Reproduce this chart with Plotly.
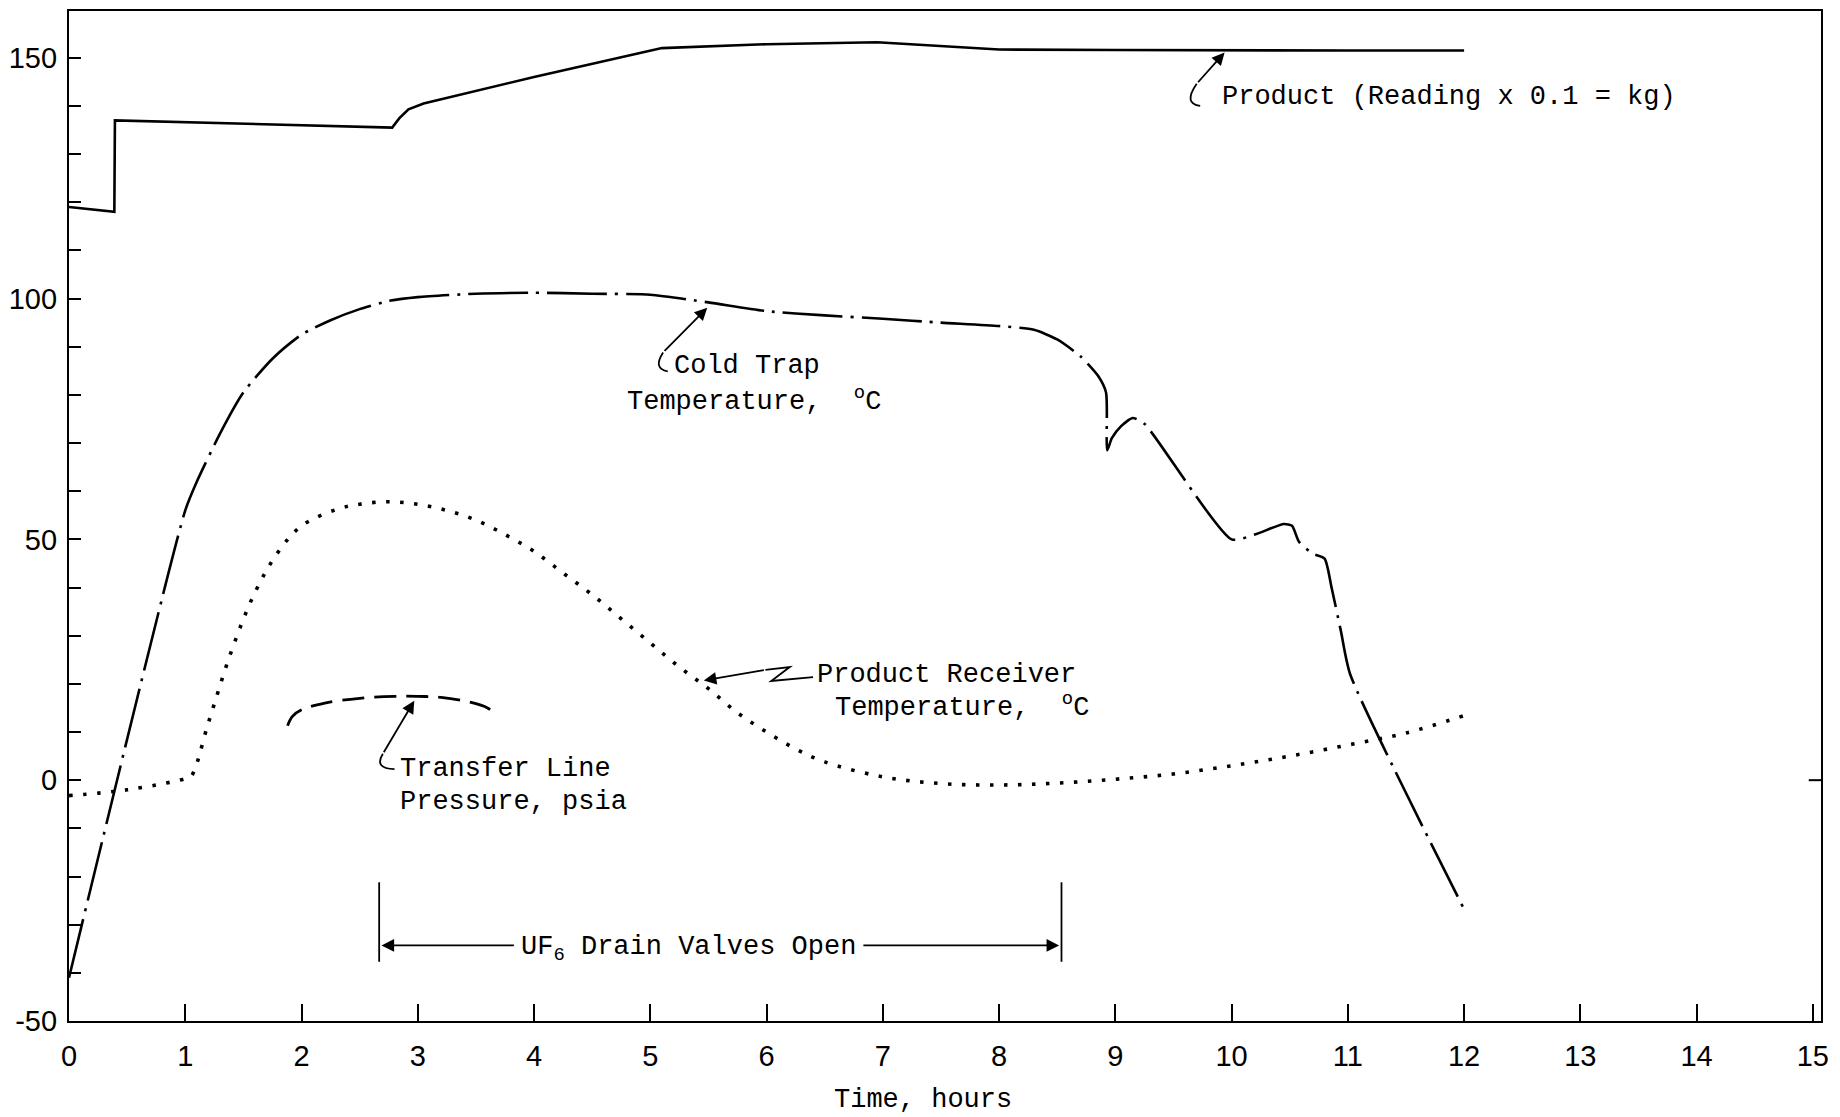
import plotly.graph_objects as go

# ---- data (time in hours) ----
# Product scale reading (reading x 0.1 = kg)
product_t = [0.0, 0.39, 0.395, 2.78, 2.84, 2.92, 3.05, 4.0, 5.1, 6.0, 6.95, 7.6, 8.0, 9.0, 10.0, 11.0, 12.0]
product_v = [119.0, 118.0, 137.0, 135.5, 137.4, 139.3, 140.5, 146.0, 152.0, 152.8, 153.2, 152.2, 151.7, 151.6, 151.5, 151.5, 151.5]

# Cold trap temperature, deg C
cold_t = [0.0, 1.0, 1.1, 1.3, 1.5, 1.75, 2.0, 2.25, 2.5, 2.75, 3.0, 3.5, 4.0, 4.5, 5.0, 5.5,
          6.0, 6.5, 7.0, 7.5, 8.0, 8.3, 8.5, 8.7, 8.85, 8.92, 8.93, 8.97, 9.05, 9.15, 9.25,
          10.0, 10.2, 10.45, 10.52, 10.58, 10.7, 10.8, 10.86, 10.94, 11.02, 12.0]
cold_v = [-41.0, 56.0, 62.0, 72.0, 80.5, 87.5, 92.5, 95.5, 97.8, 99.5, 100.3, 101.0, 101.2, 101.0, 100.8, 99.2,
          97.4, 96.5, 95.8, 95.0, 94.3, 93.5, 91.5, 88.0, 84.0, 80.5, 68.5, 71.0, 73.5, 75.2, 74.0,
          50.0, 51.0, 53.2, 52.8, 49.5, 47.0, 46.0, 40.0, 31.0, 22.0, -26.8]

# Product receiver temperature, deg C
recv_t = [0.0, 0.5, 1.0, 1.05, 1.2, 1.4, 1.6, 1.8, 2.0, 2.3, 2.5, 2.75, 3.0, 3.25, 3.5, 3.75, 4.0,
          4.25, 4.5, 4.75, 5.0, 5.25, 5.5, 5.75, 6.0, 6.25, 6.5, 7.0, 7.5, 8.0, 8.5, 9.0, 9.5,
          10.0, 10.5, 11.0, 11.5, 12.0]
recv_v = [-3.2, -2.0, 0.3, 0.8, 12.0, 27.0, 39.0, 47.4, 52.8, 56.2, 57.3, 57.8, 57.3, 56.0, 54.0, 51.0, 47.5,
          43.0, 38.5, 33.5, 28.5, 23.5, 19.0, 14.0, 10.0, 6.5, 3.8, 0.7, -0.7, -1.0, -0.6, 0.2, 1.3,
          3.0, 5.0, 7.3, 9.8, 13.4]

# Transfer line pressure, psia
press_t = [1.88, 1.92, 2.0, 2.2, 2.5, 2.8, 3.0, 3.2, 3.45, 3.6, 3.68]
press_v = [11.3, 13.2, 14.6, 16.0, 17.0, 17.4, 17.4, 17.2, 16.2, 15.0, 13.4]

# axis ticks
x_ticks = list(range(0, 16))
x_tick_labels = [str(v) for v in x_ticks]
y_ticks = [-50, 0, 50, 100, 150]
y_tick_labels = [str(v) for v in y_ticks]
y_minor_ticks = [v for v in range(-50, 151, 10) if v % 50 != 0]

# UF6 drain valves open interval (hours)
valves_open = [2.668, 8.537]

TXT = "Liberation Mono, Courier New, monospace"
NUM = "Liberation Sans Narrow, Liberation Sans, Arial"
INK = "black"
TXT_SIZE = 27

fig = go.Figure()
fig.add_trace(go.Scatter(x=product_t, y=product_v, mode="lines",
                         line=dict(color=INK, width=2.6)))
fig.add_trace(go.Scatter(x=cold_t, y=cold_v, mode="lines", line_shape="spline",
                         line=dict(color=INK, width=2.6, dash="60px,8px,3px,8px", smoothing=0.6)))
fig.add_trace(go.Scatter(x=recv_t, y=recv_v, mode="lines", line_shape="spline",
                         line=dict(color=INK, width=3.6, dash="3.5px,10.5px")))
fig.add_trace(go.Scatter(x=press_t, y=press_v, mode="lines", line_shape="spline",
                         line=dict(color=INK, width=2.8, dash="22px,10px")))

shapes = []
annotations = []


def hook(path):
    shapes.append(dict(type="path", path=path, xref="x", yref="y",
                       line=dict(color=INK, width=1.8)))


def arrow(x, y, ax, ay, head=2):
    annotations.append(dict(x=x, y=y, ax=ax, ay=ay, xref="x", yref="y", axref="x", ayref="y",
                            text="", showarrow=True, arrowhead=head, arrowsize=1.4,
                            arrowwidth=1.8, arrowcolor=INK))


def label(x, y, text, anchor="left"):
    annotations.append(dict(x=x, y=y, xref="x", yref="y", text=text, showarrow=False,
                            xanchor=anchor, yanchor="middle",
                            font=dict(family=TXT, size=TXT_SIZE, color=INK)))


# Product label and leader
label(9.90, 141.8, "Product (Reading x 0.1 = kg)")
hook("M 9.70,144.6 Q 9.58,140.4 9.73,140.0")
arrow(9.94, 151.1, 9.70, 144.6)

# Cold trap label and leader
label(5.19, 85.9, "Cold Trap")
label(4.78, 79.0, "Temperature,  <sup>o</sup>C")
hook("M 5.11,88.8 Q 5.02,85.4 5.15,84.9")
arrow(5.49, 98.1, 5.11, 88.8)

# Product receiver label and leader
label(6.42, 21.9, "Product Receiver")
label(6.57, 15.6, "Temperature,  <sup>o</sup>C")
hook("M 5.99,22.9 L 6.20,23.5 L 6.04,20.6 L 6.40,21.4")
arrow(5.46, 20.7, 5.99, 22.9)

# Transfer line pressure label and leader
label(2.83, 2.4, "Transfer Line")
label(2.83, -4.6, "Pressure, psia")
hook("M 2.70,5.5 Q 2.62,2.4 2.80,2.3")
arrow(2.97, 16.5, 2.70, 5.5)

# UF6 drain valves open bracket
for xv in valves_open:
    shapes.append(dict(type="line", xref="x", yref="y", x0=xv, x1=xv, y0=-21.2, y1=-37.7,
                       line=dict(color=INK, width=1.8)))
arrow(valves_open[0] + 0.02, -34.3, 3.84, -34.3)
arrow(valves_open[1] - 0.02, -34.3, 6.82, -34.3)
annotations.append(dict(x=5.33, y=-34.3, xref="x", yref="y", showarrow=False,
                        text="UF<sub>6</sub> Drain Valves Open", xanchor="center", yanchor="middle",
                        yshift=-4, font=dict(family=TXT, size=TXT_SIZE, color=INK)))

# x-axis title
annotations.append(dict(x=7.35, y=-0.078, xref="x", yref="paper", showarrow=False,
                        text="Time, hours", xanchor="center", yanchor="middle",
                        font=dict(family=TXT, size=TXT_SIZE, color=INK)))

# inward tick on the right frame at zero
shapes.append(dict(type="line", xref="paper", yref="y", x0=1.0, x1=0.993, y0=0, y1=0,
                   line=dict(color=INK, width=2)))

fig.update_layout(
    width=1840, height=1117,
    margin=dict(l=65, r=19, t=9, b=96),
    plot_bgcolor="white", paper_bgcolor="white",
    showlegend=False,
    shapes=shapes, annotations=annotations,
    font=dict(family=TXT, color=INK),
)
fig.update_xaxes(range=[0, 15.07], tickvals=x_ticks, ticktext=x_tick_labels,
                 showline=True, linecolor=INK, linewidth=2.2, mirror=True,
                 ticks="inside", ticklen=17, tickwidth=2, tickcolor=INK,
                 showgrid=False, zeroline=False, ticklabelstandoff=8,
                 tickfont=dict(family=NUM, size=29, color=INK))
fig.update_yaxes(range=[-50, 159.7], tickvals=y_ticks, ticktext=y_tick_labels,
                 showline=True, linecolor=INK, linewidth=2.2, mirror=True,
                 ticks="inside", ticklen=12, tickwidth=2, tickcolor=INK,
                 showgrid=False, zeroline=False, ticklabelstandoff=4,
                 tickfont=dict(family=NUM, size=29, color=INK),
                 minor=dict(tickvals=y_minor_ticks, ticks="inside", ticklen=12,
                            tickwidth=2, tickcolor=INK, showgrid=False))

fig.write_html("out.html")
